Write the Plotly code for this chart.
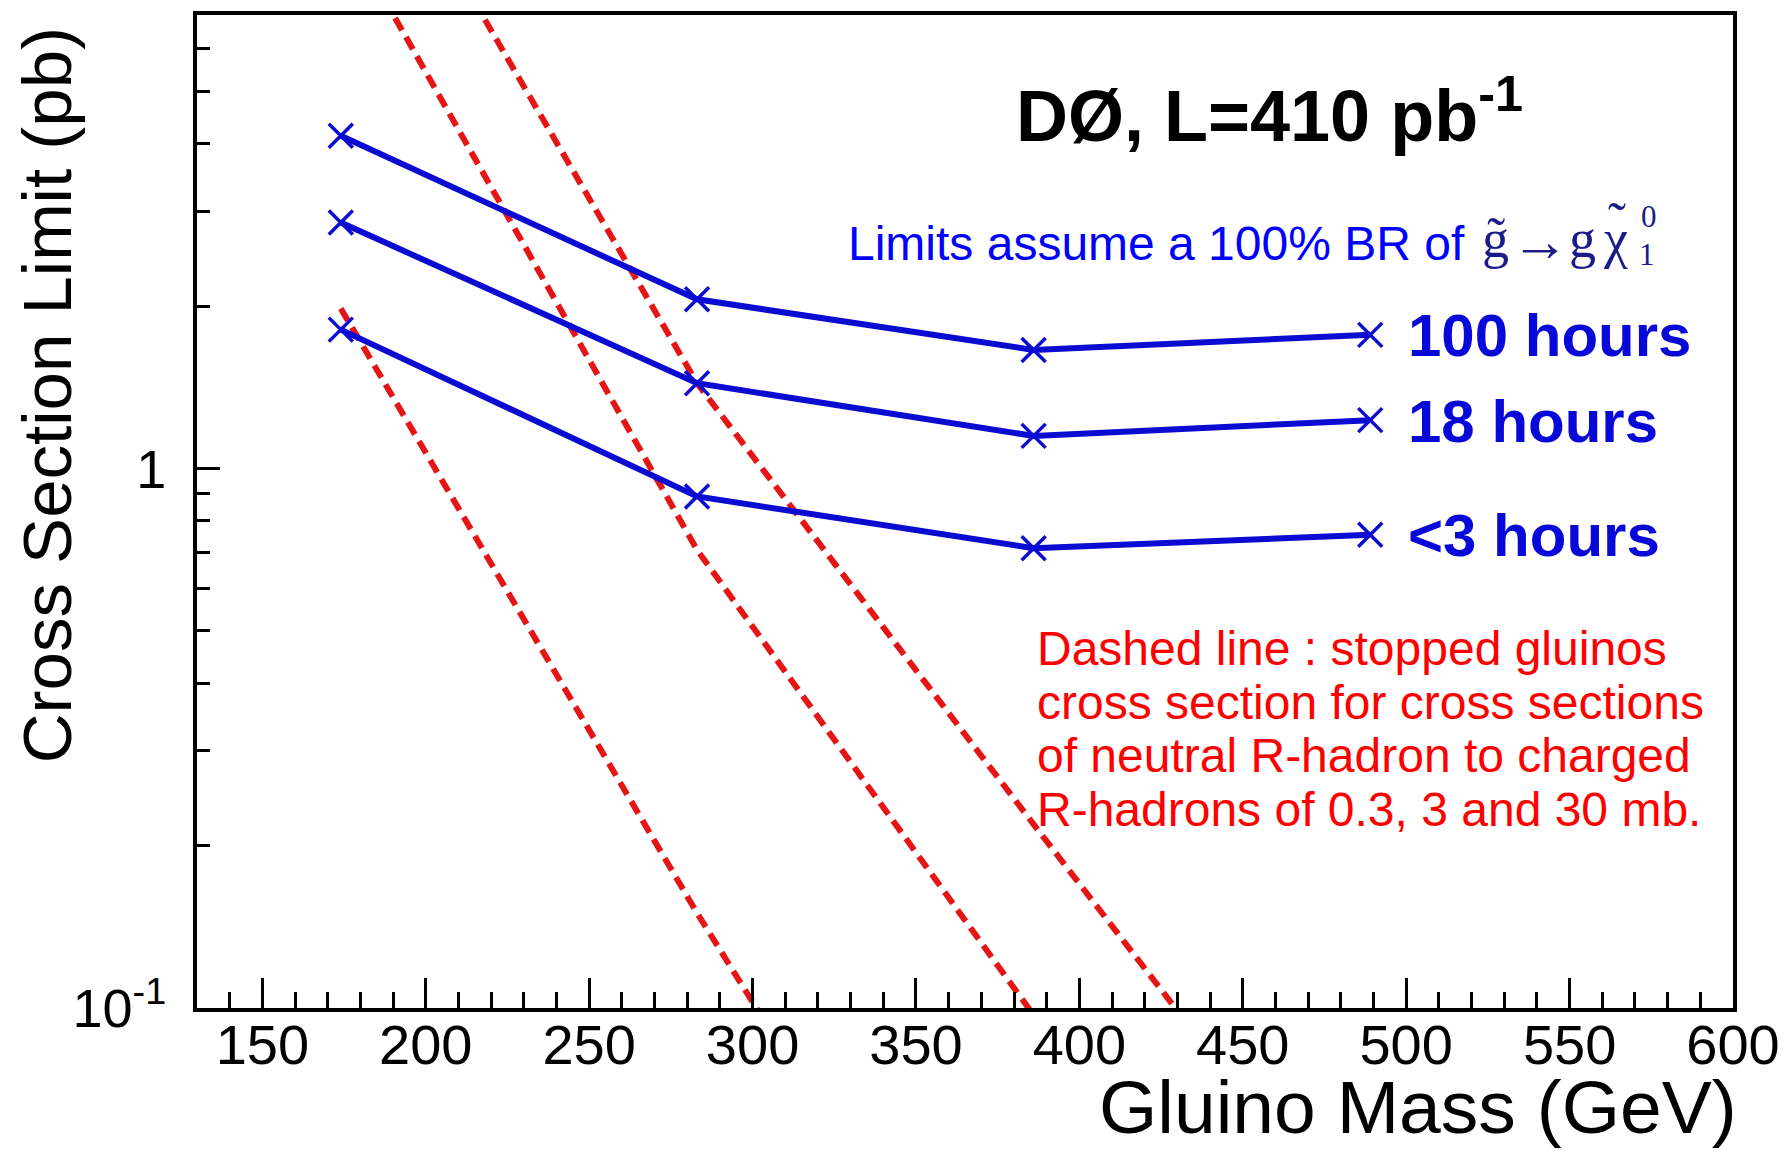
import numpy as np
import plotly.graph_objects as go

# Gluino mass points (GeV)
gluino_mass = [174, 283, 386, 489]

# 95% CL cross-section limits (pb) for the three lifetime hypotheses
limit_100h = [4.14, 2.06, 1.66, 1.77]
limit_18h = [2.86, 1.44, 1.15, 1.23]
limit_3h = [1.81, 0.888, 0.712, 0.754]
limit_names = ["100 hours", "18 hours", "<3 hours"]

# Stopped-gluino cross sections (pb) for 0.3, 3 and 30 mb R-hadron conversion
stopped_0p3mb = [1.98, 0.150, 0.015, 0.002]
stopped_3mb = [10.3, 0.707, 0.097, 0.015]
stopped_30mb = [19.5, 1.44, 0.219, 0.034]

x_ticks = [150, 200, 250, 300, 350, 400, 450, 500, 550, 600]
y_ticks = [0.1, 1]
y_tick_text = ["10<sup>-1</sup>", "1"]
y_minor = [0.2, 0.3, 0.4, 0.5, 0.6, 0.7, 0.8, 0.9, 2, 3, 4, 5, 6]

SANS = "Liberation Sans, Arial, Helvetica, sans-serif"
SERIF = "Liberation Serif, Times New Roman, serif"
BLUE = "#0b0bd2"
RED = "#e51515"
NAVY = "#1a1a8a"

fig = go.Figure()

for ys in (stopped_0p3mb, stopped_3mb, stopped_30mb):
    fig.add_trace(go.Scatter(
        x=gluino_mass, y=ys, mode="lines",
        line=dict(color=RED, width=6, dash="14px,8px"),
        hoverinfo="skip", showlegend=False,
    ))

for ys in (limit_100h, limit_18h, limit_3h):
    fig.add_trace(go.Scatter(
        x=gluino_mass, y=ys, mode="lines+markers",
        line=dict(color=BLUE, width=6),
        marker=dict(symbol="x-thin", size=24, color=BLUE,
                    line=dict(color=BLUE, width=3.5)),
        showlegend=False,
    ))

annotations = []

# Labels next to the last point of each limit curve
for name, ys in zip(limit_names, (limit_100h, limit_18h, limit_3h)):
    annotations.append(dict(
        x=500, y=np.log10(ys[-1]), xref="x", yref="y",
        text=f"<b>{name}</b>", showarrow=False,
        xanchor="left", yanchor="middle", yshift=-1,
        font=dict(family=SANS, size=60, color="#0808d8"),
    ))

annotations += [
    dict(x=0.532, y=0.904, xref="paper", yref="paper",
         text="<b>DØ, L=410 pb<sup>-1</sup></b>", showarrow=False,
         xanchor="left", yanchor="middle",
         font=dict(family=SANS, size=72, color="black")),
    dict(x=0.4224, y=0.770, xref="paper", yref="paper",
         text="Limits assume a 100% BR of", showarrow=False,
         xanchor="left", yanchor="middle",
         font=dict(family=SANS, size=48, color="#0000ff")),
]

# Decay chain  g~ -> g chi~^0_1, set glyph by glyph in a serif face
decay_glyphs = [
    ("g\u0303", 0.8452, 0.774, 54),
    ("\u2192", 0.8745, 0.772, 58),
    ("g", 0.9018, 0.774, 54),
    ("\u03c7", 0.9236, 0.774, 54),
    ("\u02dc", 0.9248, 0.792, 54),
    ("0", 0.9450, 0.797, 31),
    ("1", 0.9440, 0.759, 31),
]
for glyph, gx, gy, gsize in decay_glyphs:
    annotations.append(dict(
        x=gx, y=gy, xref="paper", yref="paper", text=glyph,
        showarrow=False, xanchor="center", yanchor="middle",
        font=dict(family=SERIF, size=gsize, color=NAVY),
    ))

note_lines = [
    "Dashed line : stopped gluinos",
    "cross section for cross sections",
    "of neutral R-hadron to charged",
    "R-hadrons of 0.3, 3 and 30 mb.",
]
for i, line in enumerate(note_lines):
    annotations.append(dict(
        x=0.5455, y=0.3616 - i * 0.0539, xref="paper", yref="paper",
        text=line, showarrow=False, xanchor="left", yanchor="middle",
        font=dict(family=SANS, size=48, color="#ff0000"),
    ))

# Axis titles
annotations += [
    dict(x=-0.0968, y=0.990, xref="paper", yref="paper",
         text="Cross Section Limit (pb)", showarrow=False, textangle=-90,
         xanchor="center", yanchor="top",
         font=dict(family=SANS, size=69, color="black")),
    dict(x=1.004, y=-0.100, xref="paper", yref="paper",
         text="Gluino Mass (GeV)", showarrow=False,
         xanchor="right", yanchor="middle",
         font=dict(family=SANS, size=75, color="black")),
]

fig.update_layout(
    width=1791, height=1152,
    margin=dict(l=197, r=54, t=11, b=144),
    paper_bgcolor="white", plot_bgcolor="white",
    showlegend=False,
    annotations=annotations,
    xaxis=dict(
        range=[130, 600], showgrid=False, zeroline=False,
        showline=True, linecolor="black", linewidth=4, mirror=True,
        ticks="inside", ticklen=30, tickwidth=3, tickcolor="black",
        tickvals=x_ticks, ticktext=[str(v) for v in x_ticks],
        ticklabelstandoff=-15,
        tickfont=dict(family=SANS, size=56, color="black"),
        minor=dict(ticks="inside", ticklen=16, tickwidth=3,
                   tickcolor="black", dtick=10, tick0=0, showgrid=False),
    ),
    yaxis=dict(
        type="log", range=[-1, 0.841], showgrid=False, zeroline=False,
        showline=True, linecolor="black", linewidth=4, mirror=True,
        ticks="inside", ticklen=23, tickwidth=3, tickcolor="black",
        tickvals=y_ticks, ticktext=y_tick_text,
        ticklabelstandoff=16,
        tickfont=dict(family=SANS, size=54, color="black"),
        minor=dict(ticks="inside", ticklen=13, tickwidth=3,
                   tickcolor="black", tickvals=y_minor, showgrid=False),
    ),
)

fig.write_html("out.html")
